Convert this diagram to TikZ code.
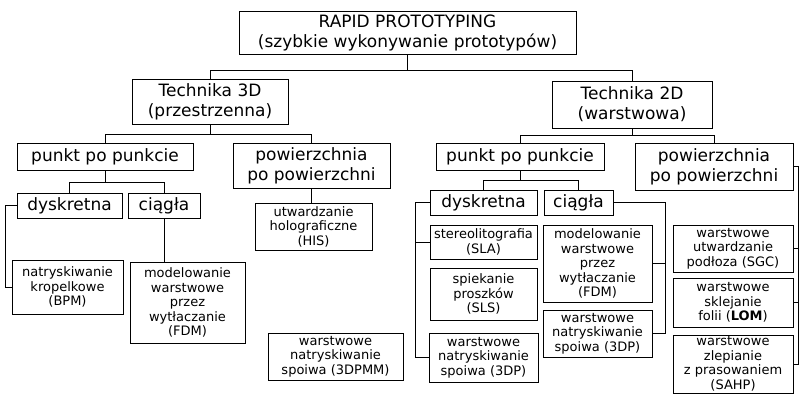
\documentclass[tikz,border=0pt]{standalone}
\usepackage{fontspec}
\setmainfont{DejaVu Sans}
\begin{document}
\begin{tikzpicture}[x=1pt, y=-1pt,
    bigbox/.style={draw, line width=0.6pt, align=center, inner sep=0pt,
        font=\fontsize{17}{20}\selectfont},
    smallbox/.style={draw, line width=0.6pt, align=center, inner sep=0pt,
        font=\fontsize{13}{14.5}\selectfont},
    link/.style={line width=0.6pt}]
    \useasboundingbox (0,0) rectangle (799,393);

    % top
    \node[bigbox, minimum width=337pt, minimum height=43pt] (rp) at (407.5,32.5)
        {RAPID PROTOTYPING\\(szybkie wykonywanie prototypów)};
    \node[bigbox, minimum width=156pt, minimum height=45pt] (t3) at (210,101.5)
        {Technika 3D\\(przestrzenna)};
    \node[bigbox, minimum width=160pt, minimum height=47pt] (t2) at (632,104.5)
        {Technika 2D\\(warstwowa)};

    % 3D branch
    \node[bigbox, minimum width=176pt, minimum height=27pt] (p3) at (105,156.5) {punkt po punkcie};
    \node[bigbox, minimum width=157pt, minimum height=45pt] (w3) at (311.5,165.5)
        {powierzchnia\\po powierzchni};
    \node[bigbox, minimum width=105pt, minimum height=25pt] (d3) at (69.5,205.5) {dyskretna};
    \node[bigbox, minimum width=72pt, minimum height=25pt] (c3) at (164,205.5) {ciągła};
    \node[smallbox, minimum width=111pt, minimum height=54pt] (bpm) at (67.5,287)
        {natryskiwanie\\kropelkowe\\(BPM)};
    \node[smallbox, minimum width=115pt, minimum height=81pt] (fdm3) at (187.5,302.5)
        {modelowanie\\warstwowe\\przez\\wytłaczanie\\(FDM)};
    \node[smallbox, minimum width=117pt, minimum height=47pt] (his) at (313.5,226.5)
        {utwardzanie\\holograficzne\\(HIS)};
    \node[smallbox, minimum width=135pt, minimum height=47pt] (dpmm) at (335.5,356.5)
        {warstwowe\\natryskiwanie\\spoiwa (3DPMM)};

    % 2D branch
    \node[bigbox, minimum width=168pt, minimum height=27pt] (p2) at (520,156.5) {punkt po punkcie};
    \node[bigbox, minimum width=158pt, minimum height=47pt] (w2) at (714,166.5)
        {powierzchnia\\po powierzchni};
    \node[bigbox, minimum width=107pt, minimum height=25pt] (d2) at (483.5,202.5) {dyskretna};
    \node[bigbox, minimum width=69pt, minimum height=25pt] (c2) at (578.5,202.5) {ciągła};
    \node[smallbox, minimum width=107pt, minimum height=34pt] (sla) at (483.5,242)
        {stereolitografia\\(SLA)};
    \node[smallbox, minimum width=107pt, minimum height=52pt] (sls) at (483.5,294)
        {spiekanie\\proszków\\(SLS)};
    \node[smallbox, minimum width=109pt, minimum height=49pt] (dp1) at (483.5,357.5)
        {warstwowe\\natryskiwanie\\spoiwa (3DP)};
    \node[smallbox, minimum width=109pt, minimum height=77pt] (fdm2) at (597.5,263.5)
        {modelowanie\\warstwowe\\przez\\wytłaczanie\\(FDM)};
    \node[smallbox, minimum width=109pt, minimum height=47pt] (dp2) at (597.5,333.5)
        {warstwowe\\natryskiwanie\\spoiwa (3DP)};
    \node[smallbox, minimum width=120pt, minimum height=47pt] (sgc) at (733,248.5)
        {warstwowe\\utwardzanie\\podłoza (SGC)};
    \node[smallbox, minimum width=120pt, minimum height=49pt] (lom) at (733,302.5)
        {warstwowe\\sklejanie\\folii (\textbf{LOM})};
    \node[smallbox, minimum width=120pt, minimum height=58pt] (sahp) at (733,364)
        {warstwowe\\zlepianie\\z prasowaniem\\(SAHP)};

    % connectors
    \draw[link] (rp.south) -- ++(0,16) -| (t3.north);
    \draw[link] (rp.south) -- ++(0,16) -| (t2.north);
    \draw[link] (t3.south) -- ++(0,10) -| (p3.north);
    \draw[link] (t3.south) -- ++(0,10) -| (w3.north);
    \draw[link] (p3.south) -- ++(0,12) -| (d3.north);
    \draw[link] (p3.south) -- ++(0,12) -| (c3.north);
    \draw[link] (d3.west) -- ++(-11,0) |- (bpm.west);
    \draw[link] (c3.south) -- (c3.south |- fdm3.north);
    \draw[link] (w3.south) -- (w3.south |- his.north);

    \draw[link] (t2.south) -- ++(0,7) -| (p2.north);
    \draw[link] (t2.south) -- ++(0,7) -| (w2.north);
    \draw[link] (p2.south) -- ++(0,10) -| (d2.north);
    \draw[link] (p2.south) -- ++(0,10) -| (c2.north);
    \draw[link] (d2.west) -- ++(-14,0) |- (dp1.west);
    \draw[link] (sla.west) -- ++(-14,0);
    \draw[link] (c2.east) -- ++(52,0) |- (dp2.east);
    \draw[link] (fdm2.east) -- ++(13,0);
    \draw[link] (w2.east) -- ++(5,0) |- (sahp.east);
    \draw[link] (sgc.east) -- ++(5,0);
    \draw[link] (lom.east) -- ++(5,0);
\end{tikzpicture}
\end{document}
